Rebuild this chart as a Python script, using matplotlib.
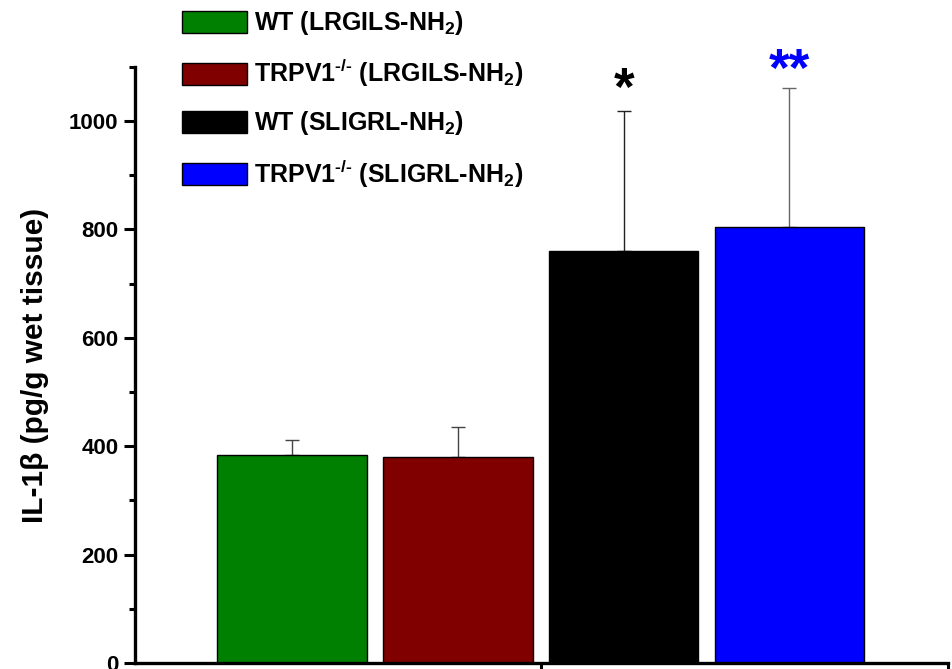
import matplotlib.pyplot as plt
import numpy as np

plt.rcParams['font.family'] = ['Liberation Sans', 'DejaVu Sans']
plt.rcParams['font.weight'] = 'bold'
plt.rcParams['mathtext.fontset'] = 'custom'
plt.rcParams['mathtext.rm'] = 'Liberation Sans:bold'
plt.rcParams['mathtext.it'] = 'Liberation Sans:bold'
plt.rcParams['mathtext.bf'] = 'Liberation Sans:bold'

# data
groups = [r"WT (LRGILS-NH$_2$)", r"TRPV1$^{\text{-/-}}$ (LRGILS-NH$_2$)",
          r"WT (SLIGRL-NH$_2$)", r"TRPV1$^{\text{-/-}}$ (SLIGRL-NH$_2$)"]
means = [384, 380, 760, 804]
errs = [27, 55, 258, 257]
colors = ["#008000", "#800000", "#000000", "#0000ff"]
err_colors = ["#444444", "#444444", "#222222", "#666666"]
stars = ["", "", "*", "**"]
star_y = [0, 0, 1030, 1065]
star_colors = ["k", "k", "k", "#0000ff"]

fig = plt.figure(figsize=(9.52, 6.69), dpi=100)
ax = fig.add_axes([0.1418, 0.009, 0.854, 0.891])

x = 0.386 + 0.408 * np.arange(len(means))
width = 0.368
handles = []
for i in range(len(means)):
    b = ax.bar(x[i], means[i], width=width, color=colors[i], edgecolor="k",
               linewidth=1, label=groups[i], zorder=2)
    handles.append(b)
    ax.errorbar(x[i], means[i], yerr=[[0], [errs[i]]], fmt="none",
                ecolor=err_colors[i], elinewidth=1, capsize=4.7, capthick=1, zorder=1)
    if stars[i]:
        ax.text(x[i], star_y[i], stars[i], ha="center", va="baseline",
                fontsize=38, fontweight="bold", color=star_colors[i], clip_on=False)

ax.set_xlim(0, 2)
ax.set_ylim(0, 1100)
ax.set_xticks([1, 2])
ax.set_xticklabels([])
ax.set_yticks([0, 200, 400, 600, 800, 1000])
ax.set_yticks([100, 300, 500, 700, 900, 1100], minor=True)
for s in ["top", "right"]:
    ax.spines[s].set_visible(False)
for s in ["left", "bottom"]:
    ax.spines[s].set_linewidth(2.4)
ax.tick_params(axis="y", which="major", length=8, width=2.2, labelsize=16, pad=4)
ax.tick_params(axis="y", which="minor", length=4, width=2.2)
ax.tick_params(axis="x", which="major", length=4, width=2.2)
for t in ax.get_yticklabels():
    t.set_fontweight("bold")
ax.set_ylabel("IL-1β (pg/g wet tissue)", fontsize=21.5, fontweight="bold", labelpad=14)

fig.legend(handles=handles, loc="upper left", bbox_to_anchor=(0.191, 0.986),
           frameon=False, fontsize=18, handlelength=2.6, handleheight=0.96,
           handletextpad=0.3, labelspacing=0.8, borderpad=0, borderaxespad=0)

fig.savefig("out.png", dpi=100)
